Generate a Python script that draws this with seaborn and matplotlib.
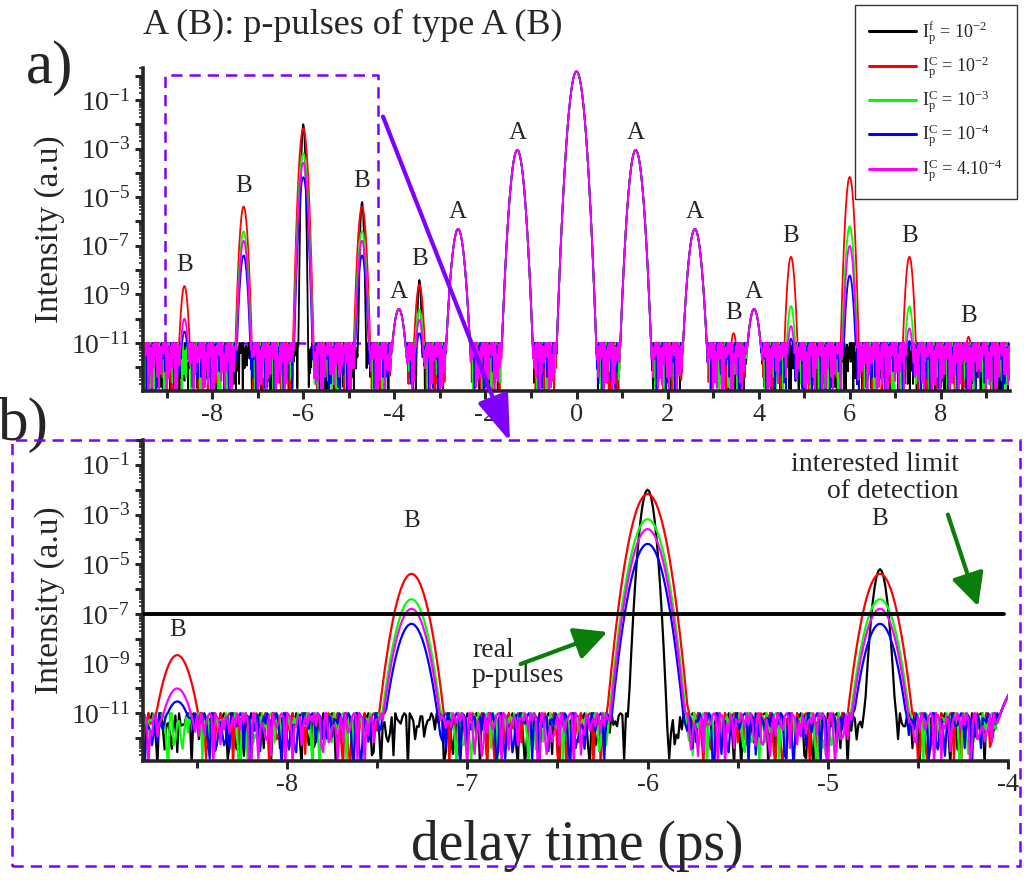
import numpy as np
import pandas as pd
import matplotlib
matplotlib.use("Agg")
import matplotlib.pyplot as plt
import seaborn as sns
from matplotlib.patches import FancyArrowPatch, Rectangle
from matplotlib.lines import Line2D
from matplotlib.ticker import LogLocator, FuncFormatter, MultipleLocator, NullFormatter

# ---------------- data ----------------
SERIES = ["f_1e-2", "C_1e-2", "C_1e-3", "C_1e-4", "C_4e-4"]
SERIES_LABELS = [r"$\mathrm{I}_\mathrm{p}^\mathrm{f}$ = 10$^{-2}$",
                 r"$\mathrm{I}_\mathrm{p}^\mathrm{C}$ = 10$^{-2}$",
                 r"$\mathrm{I}_\mathrm{p}^\mathrm{C}$ = 10$^{-3}$",
                 r"$\mathrm{I}_\mathrm{p}^\mathrm{C}$ = 10$^{-4}$",
                 r"$\mathrm{I}_\mathrm{p}^\mathrm{C}$ = 4.10$^{-4}$"]
COLORS = ["#000000", "#ff0000", "#00ff00", "#0000ff", "#ff00ff"]

# pulse positions (ps) and type
PEAK_POS = [-8.61, -7.31, -6.0, -4.71, -3.9, -3.45, -2.6, -1.3, 0.0,
            1.3, 2.6, 3.45, 3.9, 4.71, 6.0, 7.31, 8.61]
PEAK_TYPE = ["B", "B", "B", "B", "A", "B", "A", "A", "0",
             "A", "A", "B", "A", "B", "B", "B", "B"]
# peak intensities (a.u.) per series, 0 = no pulse above noise
PEAK_F_1E2 = [0, 0, 1.0e-2, 6.3e-6, 2.5e-10, 3.9e-9, 4.9e-7, 8.7e-4, 1.5,
              8.7e-4, 4.9e-7, 0, 2.5e-10, 0, 0, 0, 0]
PEAK_C_1E2 = [2.2e-9, 4.1e-6, 6.7e-3, 4.1e-6, 2.5e-10, 2.5e-9, 4.9e-7, 8.7e-4, 1.5,
              8.7e-4, 4.9e-7, 2.5e-11, 2.5e-10, 3.5e-8, 6.8e-5, 3.5e-8, 1.8e-11]
PEAK_C_1E3 = [0, 3.9e-7, 6.5e-4, 3.9e-7, 2.5e-10, 2.3e-10, 4.9e-7, 8.7e-4, 1.5,
              8.7e-4, 4.9e-7, 0, 2.5e-10, 3.3e-10, 6.3e-7, 3.2e-10, 0]
PEAK_C_1E4 = [3.0e-11, 4.0e-8, 6.6e-5, 4.0e-8, 2.5e-10, 2.5e-11, 4.9e-7, 8.7e-4, 1.5,
              8.7e-4, 4.9e-7, 0, 2.5e-10, 1.5e-11, 6.0e-9, 1.2e-11, 0]
PEAK_C_4E4 = [1.0e-10, 1.6e-7, 2.6e-4, 1.6e-7, 2.5e-10, 9.0e-11, 4.9e-7, 8.7e-4, 1.5,
              8.7e-4, 4.9e-7, 0, 2.5e-10, 5.0e-11, 1.0e-7, 4.0e-11, 0]
PEAKS = [PEAK_F_1E2, PEAK_C_1E2, PEAK_C_1E3, PEAK_C_1E4, PEAK_C_4E4]

# pulse sharpness (decades lost per ps^2)
K_CENTRAL = 60.0
K_A = 70.0
K_B = 175.0
K_B_FOURIER = 800.0

NOISE_FLOOR = 1e-11
# depth of the noise dips below the floor (decades)
NOISE_DIPS_A = [0.0, 0.3, 0.1, 0.9, 0.2, 0.0, 1.4, 0.4, 0.1, 0.6,
                0.0, 1.8, 0.3, 0.2, 0.0, 0.8, 0.5, 0.1, 1.1, 0.0,
                0.2, 0.7, 0.3, 1.6, 0.1, 0.0, 0.4, 1.0, 0.2, 0.6,
                0.0, 1.3, 0.1, 0.3, 2.0, 0.2, 0.5, 0.0, 0.9, 0.4]
NOISE_DIPS_B = [1.0, 0.6, 1.2, 0.8, 0.5, 1.1, 0.9, 0.7, 1.3, 0.6,
                1.0, 0.8, 0.5, 1.2, 0.9, 0.7, 1.1, 0.6, 1.0, 0.8,
                1.3, 0.5, 0.9, 1.2, 0.7, 1.0, 0.6, 1.1, 0.8, 0.9,
                0.5, 1.2, 0.7, 1.0, 0.6, 1.3, 0.8]

A_LABELS_POS = [-3.9, -2.6, -1.3, 1.3, 2.6, 3.9]
B_LABELS_POS_A = [-8.61, -7.31, -4.71, -3.45, 3.45, 4.71, 7.31, 8.61]
B_LABELS_POS_B = [-8.61, -7.31, -4.71]

# ---------------- build curves ----------------
x = np.round(np.arange(-9.5, 9.5001, 0.01), 3)
rows = []
for si, (name, peaks) in enumerate(zip(SERIES, PEAKS)):
    idx = np.arange(len(x))
    a = np.array(NOISE_DIPS_A)[(idx * 3 + 11 * si) % len(NOISE_DIPS_A)]
    b = np.array(NOISE_DIPS_B)[(idx * 7 + 5 * si) % len(NOISE_DIPS_B)]
    depth = np.clip(a * b * 1.3, 0, 2.1)
    y = NOISE_FLOOR * 10.0 ** (-depth)
    for p, t, h in zip(PEAK_POS, PEAK_TYPE, peaks):
        if h <= 0:
            continue
        if t == "0":
            k = K_CENTRAL
        elif t == "A":
            k = K_A
        else:
            k = K_B_FOURIER if si == 0 else K_B
        y = np.maximum(y, h * 10.0 ** (-k * (x - p) ** 2))
    rows.append(pd.DataFrame({"delay": x, "I": y, "series": name}))
df = pd.concat(rows, ignore_index=True)

# ---------------- style ----------------
sns.set_style("ticks")
plt.rcParams["font.family"] = ["Liberation Serif", "DejaVu Serif"]
plt.rcParams["mathtext.fontset"] = "custom"
plt.rcParams["mathtext.rm"] = "Liberation Serif"
plt.rcParams["mathtext.it"] = "Liberation Serif:italic"
plt.rcParams["axes.unicode_minus"] = False

W, H = 1024, 880
fig = plt.figure(figsize=(W / 100, H / 100), dpi=100)


def fx(px):
    return px / W


def fy(py):
    return 1 - py / H


ax1 = fig.add_axes([fx(143), fy(391), fx(1010) - fx(143), fy(68) - fy(391)])
ax2 = fig.add_axes([fx(143), fy(761), fx(1008) - fx(143), fy(440) - fy(761)])

palette = dict(zip(SERIES, COLORS))
sns.lineplot(data=df, x="delay", y="I", hue="series", hue_order=SERIES,
             palette=palette, estimator=None, sort=False, lw=1.3,
             legend=False, ax=ax1)
dfb = df[(df["delay"] >= -8.85) & (df["delay"] <= -3.95)]
sns.lineplot(data=dfb, x="delay", y="I", hue="series", hue_order=SERIES,
             palette=palette, estimator=None, sort=False, lw=1.6,
             legend=False, ax=ax2)


def yfmt(v, pos):
    e = int(np.round(np.log10(v)))
    return r"$10^{%d}$" % e if e % 2 != 0 else ""


for ax, ylim, xlim, xmaj in [(ax1, (1.05e-13, 2.07), (-9.52, 9.52), 2),
                              (ax2, (1.2e-13, 1.0), (-8.8, -4.0), 1)]:
    ax.set_yscale("log")
    ax.set_ylim(*ylim)
    ax.set_xlim(*xlim)
    ax.yaxis.set_major_locator(LogLocator(base=10, numticks=30))
    ax.yaxis.set_major_formatter(FuncFormatter(yfmt))
    ax.yaxis.set_minor_locator(LogLocator(base=10, subs=np.arange(2, 10), numticks=30))
    ax.yaxis.set_minor_formatter(NullFormatter())
    ax.xaxis.set_major_locator(MultipleLocator(xmaj))
    ax.xaxis.set_minor_locator(MultipleLocator(xmaj / 2))
    ax.set_xlabel("")
    ax.set_ylabel("Intensity (a.u)", fontsize=24)
    ax.yaxis.set_label_coords(-0.09, 0.5)
    for s in ["top", "right"]:
        ax.spines[s].set_visible(False)
    for s in ["left", "bottom"]:
        ax.spines[s].set_linewidth(2.6)
    ax.tick_params(axis="both", which="major", direction="out", length=6, width=2.2,
                   labelsize=20, pad=3)
    ax.tick_params(axis="x", which="minor", direction="out", length=5, width=2.2)
    ax.tick_params(axis="y", which="minor", direction="out", length=3, width=1.2)
    ax.tick_params(axis="x", which="major", labelsize=19, pad=3)

# horizontal detection limit in panel b
ax2.plot([-8.8, -4.02], [1e-7, 1e-7], color="black", lw=2.8, zorder=5)

# peak type labels
def peak_max(p):
    i = PEAK_POS.index(p)
    return max(pk[i] for pk in PEAKS)


for p in A_LABELS_POS:
    ax1.annotate("A", (p, peak_max(p)), xytext=(0, 4), textcoords="offset points",
                 ha="center", va="bottom", fontsize=18)
for p in B_LABELS_POS_A:
    ax1.annotate("B", (p, max(peak_max(p), NOISE_FLOOR)), xytext=(0, 7),
                 textcoords="offset points", ha="center", va="bottom", fontsize=18)
for p, off in zip(B_LABELS_POS_B, [10, 30, 28]):
    ax2.annotate("B", (p, peak_max(p)), xytext=(0, off), textcoords="offset points",
                 ha="center", va="bottom", fontsize=18)

# zoom box in panel a
purple = "#7f00ff"
ax1.plot([-9.03, -9.03, -4.36, -4.36, -9.03], [1e-11, 1.07, 1.07, 1e-11, 1e-11],
         ls=(0, (4.5, 2.8)), color=purple, lw=1.8, zorder=1)

# dashed frame of panel b
fig.add_artist(Rectangle((fx(12), fy(866)), fx(1020) - fx(12), fy(440) - fy(866),
                         transform=fig.transFigure, fill=False, ec=purple,
                         lw=1.8, ls=(0, (4.5, 2.8)), zorder=10))
# purple arrow
fig.add_artist(FancyArrowPatch((fx(382), fy(114)), (fx(511), fy(444)),
                               transform=fig.transFigure,
                               arrowstyle="-|>,head_length=1.3,head_width=0.45",
                               mutation_scale=22, lw=3, color=purple, zorder=11))
# green arrows
green = "#0b7d0b"
fig.add_artist(FancyArrowPatch((fx(518), fy(665)), (fx(610), fy(631)),
                               transform=fig.transFigure,
                               arrowstyle="-|>,head_length=1.0,head_width=0.5",
                               mutation_scale=20, lw=3, color=green, zorder=11))
fig.add_artist(FancyArrowPatch((fx(947), fy(512)), (fx(979), fy(609)),
                               transform=fig.transFigure,
                               arrowstyle="-|>,head_length=1.0,head_width=0.5",
                               mutation_scale=20, lw=3, color=green, zorder=11))

# texts
fig.text(fx(143), fy(25), "A (B): p-pulses of type A (B)", ha="left", va="center",
         fontsize=26)
fig.text(fx(26), fy(68), "a)", ha="left", va="center", fontsize=44)
fig.text(fx(-2), fy(425), "b)", ha="left", va="center", fontsize=44)
fig.text(fx(472), fy(663), "real\np-pulses", ha="left", va="center", fontsize=20,
         linespacing=1.0)
fig.text(fx(959), fy(478), "interested limit\nof detection", ha="right", va="center",
         fontsize=20, linespacing=1.15, multialignment="right")
fig.text(fx(577), fy(846), "delay time (ps)", ha="center", va="center", fontsize=40)

# legend
handles = [Line2D([0], [0], color=c, lw=2.2) for c in COLORS]
leg = fig.legend(handles, SERIES_LABELS, loc="upper right",
                 bbox_to_anchor=(fx(1017), fy(5)), frameon=True, fancybox=False,
                 edgecolor="black", fontsize=13, handlelength=2.6,
                 labelspacing=0.4, borderpad=0.8, handletextpad=0.3,
                 borderaxespad=0)
leg.get_frame().set_linewidth(1.0)

fig.savefig("out.png", dpi=100)
